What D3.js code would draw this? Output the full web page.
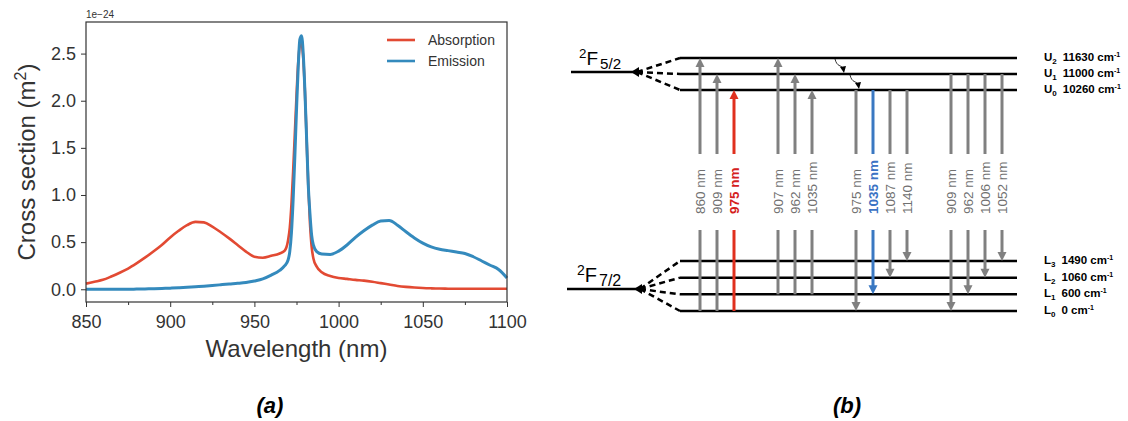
<!DOCTYPE html>
<html>
<head>
<meta charset="utf-8">
<script src="https://cdn.jsdelivr.net/npm/d3@7"></script>
<style>
  body { margin: 0; background: #fff; }
  svg { display: block; font-family: "Liberation Sans", Arial, sans-serif; }
</style>
</head>
<body>
<div id="viz"></div>
<script>
// ---- panel (a) data: cross sections, units of 1e-24 m^2
const wavelength = [850,855,860,865,870,875,880,885,890,895,900,905,910,915,920,925,930,935,940,945,950,955,960,965,968,970,971,972,973,974,975,976,977,978,979,980,981,982,983,984,985,987,990,995,1000,1005,1010,1015,1020,1025,1030,1035,1040,1045,1050,1055,1060,1065,1070,1075,1080,1085,1090,1095,1100];
const absorption = [0.06,0.08,0.10,0.135,0.175,0.22,0.275,0.335,0.40,0.47,0.55,0.62,0.68,0.715,0.71,0.665,0.605,0.54,0.47,0.40,0.345,0.335,0.355,0.38,0.41,0.52,0.65,0.9,1.25,1.65,2.05,2.4,2.58,2.6,2.45,2.1,1.6,1.1,0.7,0.45,0.33,0.24,0.18,0.14,0.12,0.11,0.10,0.092,0.08,0.065,0.05,0.035,0.025,0.018,0.013,0.01,0.008,0.006,0.005,0.005,0.005,0.005,0.005,0.005,0.005];
const emission = [0,0,0,0,0,0,0.002,0.004,0.006,0.009,0.012,0.016,0.021,0.027,0.033,0.04,0.048,0.056,0.063,0.072,0.088,0.11,0.15,0.2,0.25,0.31,0.4,0.6,0.95,1.4,1.9,2.35,2.65,2.69,2.5,2.1,1.6,1.1,0.8,0.57,0.47,0.4,0.375,0.37,0.405,0.47,0.55,0.62,0.68,0.725,0.73,0.68,0.61,0.545,0.49,0.45,0.425,0.41,0.395,0.38,0.345,0.3,0.255,0.21,0.12];
const xTicks = [850, 900, 950, 1000, 1050, 1100];
const yTicks = [0, 0.5, 1.0, 1.5, 2.0, 2.5];
const seriesNames = ["Absorption", "Emission"];

// ---- panel (b) data: Yb levels (cm-1) and transitions
const upperNames = ["U0", "U1", "U2"];
const upperEnergy = [10260, 11000, 11630];
const lowerNames = ["L0", "L1", "L2", "L3"];
const lowerEnergy = [0, 600, 1060, 1490];
// [kind, lower level index, upper level index, label]
const transitions = [
  ["abs", 0, 2, "860 nm"], ["abs", 0, 1, "909 nm"], ["pump", 0, 0, "975 nm"],
  ["abs", 1, 2, "907 nm"], ["abs", 1, 1, "962 nm"], ["abs", 1, 0, "1035 nm"],
  ["em", 0, 0, "975 nm"], ["laser", 1, 0, "1035 nm"], ["em", 2, 0, "1087 nm"], ["em", 3, 0, "1140 nm"],
  ["em", 0, 1, "909 nm"], ["em", 1, 1, "962 nm"], ["em", 2, 1, "1006 nm"], ["em", 3, 1, "1052 nm"]
];

const W = 1128, H = 421;
const svg = d3.select("#viz").append("svg")
  .attr("width", W).attr("height", H)
  .attr("viewBox", "0 0 " + W + " " + H);

// ================= (a) =================
const red = "#e24a33", blue = "#348abd", ink = "#333";
const L = 86, R = 507, T = 22, B = 302;
const x = d3.scaleLinear().domain([850, 1100]).range([L, R]);
const y = d3.scaleLinear().domain([-0.135, 2.835]).range([B, T]);

const pa = svg.append("g");

const xAxis = pa.append("g").attr("transform", "translate(0," + B + ")")
  .call(d3.axisBottom(x).tickValues(xTicks).tickFormat(d3.format("d")).tickSize(5).tickSizeOuter(0));
pa.append("g").attr("transform", "translate(0," + B + ")")
  .call(d3.axisBottom(x).tickValues(d3.range(875, 1100, 50)).tickFormat("").tickSize(3).tickSizeOuter(0))
  .call(g => g.select(".domain").remove())
  .call(g => g.selectAll(".tick line").attr("stroke", ink));
const yAxis = pa.append("g").attr("transform", "translate(" + L + ",0)")
  .call(d3.axisLeft(y).tickValues(yTicks).tickFormat(d3.format(".1f")).tickSize(5).tickSizeOuter(0));

[xAxis, yAxis].forEach(g => {
  g.select(".domain").remove();
  g.selectAll(".tick line").attr("stroke", ink).attr("stroke-width", 1);
  g.selectAll(".tick text").attr("fill", ink).style("font-size", "18px")
    .style("font-family", "Liberation Sans, Arial, sans-serif");
});
xAxis.selectAll(".tick text").attr("dy", "1em");
yAxis.selectAll(".tick text").attr("dx", "-2");

const line = (vals) => d3.line()
  .x((d, i) => x(wavelength[i])).y(d => y(d))
  .curve(d3.curveMonotoneX)(vals);

pa.append("path").attr("d", line(absorption))
  .attr("fill", "none").attr("stroke", red).attr("stroke-width", 2.6);
pa.append("path").attr("d", line(emission))
  .attr("fill", "none").attr("stroke", blue).attr("stroke-width", 3);

pa.append("rect").attr("x", L).attr("y", T).attr("width", R - L).attr("height", B - T)
  .attr("fill", "none").attr("stroke", ink).attr("stroke-width", 1.2);

pa.append("text").text("1e\u221224").attr("x", L).attr("y", 18)
  .attr("fill", ink).style("font-size", "10px");

// legend
const leg = pa.append("g").attr("transform", "translate(387,40)");
seriesNames.forEach((n, i) => {
  leg.append("line").attr("x1", 0).attr("x2", 28).attr("y1", i * 21).attr("y2", i * 21)
    .attr("stroke", i ? blue : red).attr("stroke-width", 2.6);
  leg.append("text").text(n).attr("x", 41).attr("y", i * 21 + 5)
    .attr("fill", ink).style("font-size", "14px");
});

pa.append("text").attr("x", (L + R) / 2).attr("y", 357).attr("text-anchor", "middle")
  .attr("fill", ink).style("font-size", "24px").text("Wavelength (nm)");
const yl = pa.append("text").attr("transform", "translate(35," + ((T + B) / 2) + ") rotate(-90)")
  .attr("text-anchor", "middle").attr("fill", ink).style("font-size", "24px");
yl.append("tspan").text("Cross section (m");
yl.append("tspan").text("2").attr("dy", -9).style("font-size", "16px");
yl.append("tspan").text(")").attr("dy", 9);

svg.append("text").text("(a)").attr("x", 270).attr("y", 413).attr("text-anchor", "middle")
  .style("font-size", "22px").style("font-weight", "bold").style("font-style", "italic");

// ================= (b) =================
const pb = svg.append("g");
const lvlX0 = 680, lvlX1 = 1017;
const yUp = d3.scalePoint().domain([2, 1, 0]).range([58, 90]);
const yLo = d3.scalePoint().domain([3, 2, 1, 0]).range([261, 311]);
const gapTop = 154, gapBot = 230;

function manifold(stemX0, stemX1, stemY, ys) {
  pb.append("line").attr("x1", stemX0).attr("x2", stemX1).attr("y1", stemY).attr("y2", stemY)
    .attr("stroke", "#000").attr("stroke-width", 2.5);
  pb.append("path").attr("d", `M${stemX1 - 6},${stemY} l8,-5 l0,10 z`).attr("fill", "#000");
  ys.forEach(yy => {
    pb.append("line").attr("x1", stemX1).attr("y1", stemY).attr("x2", lvlX0).attr("y2", yy)
      .attr("stroke", "#000").attr("stroke-width", 2.5).attr("stroke-dasharray", "6,4");
    pb.append("line").attr("x1", lvlX0).attr("x2", lvlX1).attr("y1", yy).attr("y2", yy)
      .attr("stroke", "#000").attr("stroke-width", 2.5);
  });
}
manifold(571, 637, 72, upperEnergy.map((e, i) => yUp(i)));
manifold(567, 640, 289, lowerEnergy.map((e, i) => yLo(i)));

function term(tx, ty, sub, size) {
  const t = pb.append("text").attr("x", tx).attr("y", ty).style("font-size", size + "px").attr("fill", "#000");
  t.append("tspan").text("2").attr("dy", -7).style("font-size", (size * 0.7) + "px");
  t.append("tspan").text("F").attr("dy", 7);
  t.append("tspan").text(sub).attr("dy", 4).attr("dx", 2).style("font-size", (size * 0.8) + "px");
}
term(579, 65, "5/2", 19);
term(577, 282, "7/2", 20);

function levelLabel(name, energy, yy) {
  const t = pb.append("text").attr("x", 1044).attr("y", yy + 3)
    .style("font-size", "11.5px").style("font-weight", "bold").attr("fill", "#000");
  t.append("tspan").text(name[0]);
  t.append("tspan").text(name.slice(1)).attr("dy", 3).style("font-size", "8px");
  t.append("tspan").text(energy + " cm").attr("dy", -3).attr("dx", 6);
  t.append("tspan").text("-1").attr("dy", -4).style("font-size", "7px");
}
upperNames.forEach((n, i) => levelLabel(n, upperEnergy[i], yUp(i)));
lowerNames.forEach((n, i) => levelLabel(n, lowerEnergy[i], yLo(i)));

const colour = { abs: "#808080", em: "#808080", pump: "#e0301e", laser: "#3a78c2" };
const labelColour = { abs: "#707070", em: "#707070", pump: "#d42020", laser: "#3b73c4" };

// column positions: groups by (kind, origin level)
let group = -1, prevKey = null;
transitions.forEach((t, i) => {
  const up = (t[0] === "abs" || t[0] === "pump");
  const key = up ? "a" + t[1] : "e" + t[2];
  if (key !== prevKey) { group++; prevKey = key; }
  const cx = 700 + i * 17 + group * 27;
  const yLower = yLo(t[1]), yUpper = yUp(t[2]);
  const c = colour[t[0]];
  const hw = 4.5, hl = 9;
  if (up) {
    pb.append("line").attr("x1", cx).attr("x2", cx).attr("y1", yLower).attr("y2", gapBot)
      .attr("stroke", c).attr("stroke-width", 3);
    pb.append("line").attr("x1", cx).attr("x2", cx).attr("y1", gapTop).attr("y2", yUpper + hl - 1)
      .attr("stroke", c).attr("stroke-width", 3);
    pb.append("path").attr("d", `M${cx},${yUpper} l${hw},${hl} l${-2 * hw},0 z`).attr("fill", c);
  } else {
    pb.append("line").attr("x1", cx).attr("x2", cx).attr("y1", yUpper).attr("y2", gapTop)
      .attr("stroke", c).attr("stroke-width", 3);
    pb.append("line").attr("x1", cx).attr("x2", cx).attr("y1", gapBot).attr("y2", yLower - hl + 1)
      .attr("stroke", c).attr("stroke-width", 3);
    pb.append("path").attr("d", `M${cx},${yLower} l${hw},${-hl} l${-2 * hw},0 z`).attr("fill", c);
  }
  const bold = (t[0] === "pump" || t[0] === "laser");
  pb.append("text").text(t[3])
    .attr("transform", `translate(${cx + 4.5},214) rotate(-90)`)
    .attr("fill", labelColour[t[0]])
    .style("font-size", "13.5px").style("font-weight", bold ? "bold" : "normal");
});

// non-radiative relaxation U2 -> U1 -> U0
[[835, 2, 1], [850, 1, 0]].forEach(([sx, a, b]) => {
  const y0 = yUp(a) + 1, y1 = yUp(b) - 1;
  pb.append("path").attr("d", `M${sx},${y0} C${sx + 2},${y0 + 8} ${sx + 6},${y0 + 6} ${sx + 8},${y1 - 5}`)
    .attr("fill", "none").attr("stroke", "#000").attr("stroke-width", 0.8);
  pb.append("path").attr("d", `M${sx + 9},${y1} l-4,-6 l6,-1 z`).attr("fill", "#000");
});

svg.append("text").text("(b)").attr("x", 847).attr("y", 413).attr("text-anchor", "middle")
  .style("font-size", "22px").style("font-weight", "bold").style("font-style", "italic");
</script>
</body>
</html>
